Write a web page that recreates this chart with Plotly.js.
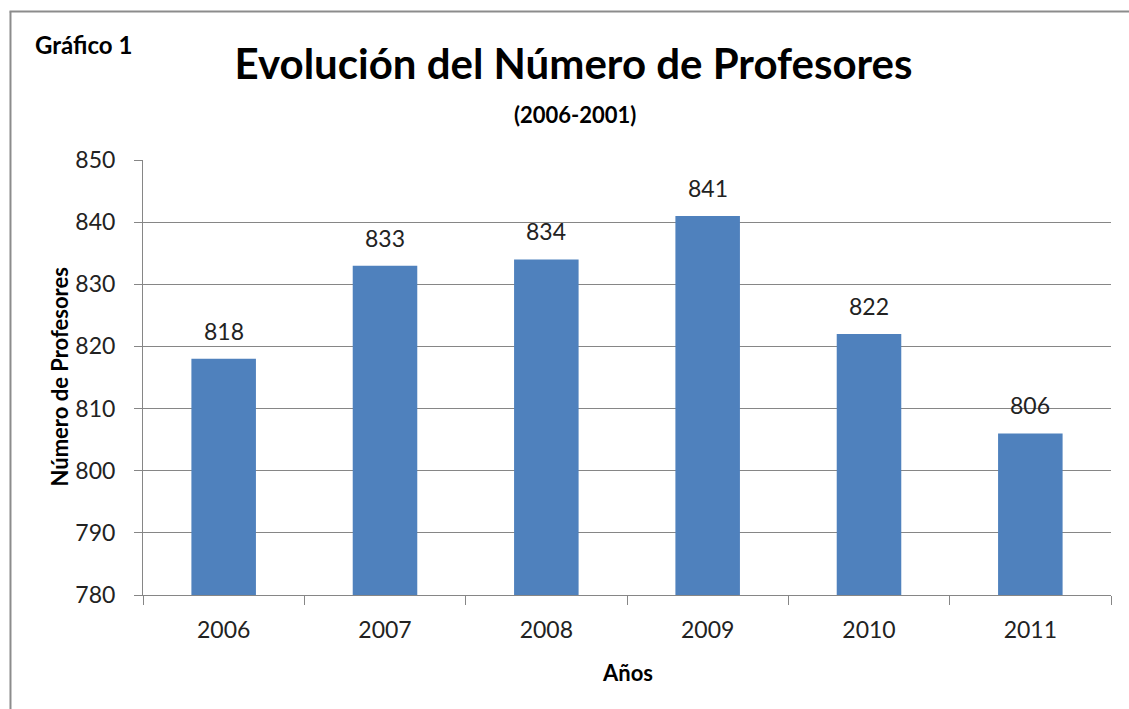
<!DOCTYPE html>
<html>
<head>
<meta charset="utf-8">
<script src="https://cdn.plot.ly/plotly-3.0.1.min.js"></script>
<style>
  body { margin: 0; background: #fff; overflow: hidden; }
</style>
</head>
<body>
<div id="plot" style="width:1129px;height:709px;"></div>
<script>
// años y número de profesores
let years = ["2006", "2007", "2008", "2009", "2010", "2011"];
let profesores = [818, 833, 834, 841, 822, 806];
let yTicks = [780, 790, 800, 810, 820, 830, 840, 850];

let fontName = "Lato, 'Open Sans', sans-serif";
let grey = "#868686";

let trace1 = {
    x: years,
    y: profesores,
    type: "bar",
    marker: { color: "#4f81bd" },
    hoverinfo: "x+y"
};

// etiquetas encima de cada barra (x = indice de la categoria)
let labels = years.map(function (yr, i) {
    return {
        x: i, y: profesores[i], text: String(profesores[i]),
        xref: "x", yref: "y", yanchor: "bottom", yshift: 12,
        showarrow: false, font: { family: fontName, size: 23, color: "#222" }
    };
});

labels.push({
    text: "<b>Gráfico 1</b>", xref: "paper", yref: "paper",
    x: -0.114, y: 1.265, xanchor: "left", yanchor: "middle",
    showarrow: false, font: { family: fontName, size: 24, color: "#000" }
});
labels.push({
    text: "<b>(2006-2001)</b>", xref: "paper", yref: "paper",
    x: 0.446, y: 1.105, xanchor: "center", yanchor: "middle",
    showarrow: false, font: { family: fontName, size: 22, color: "#000" }
});
// titulos de los ejes
labels.push({
    text: "<b>Número de Profesores</b>", xref: "paper", yref: "paper",
    x: 0, y: 0.5, xshift: -84, textangle: -90,
    xanchor: "center", yanchor: "middle",
    showarrow: false, font: { family: fontName, size: 22, color: "#000" }
});
labels.push({
    text: "<b>Años</b>", xref: "paper", yref: "paper",
    x: 0.5, y: 0, yshift: -77,
    xanchor: "center", yanchor: "middle",
    showarrow: false, font: { family: fontName, size: 22, color: "#000" }
});

// marco gris: solo borde izquierdo y superior
let frame = [
    { type: "line", xref: "paper", yref: "paper", x0: -0.1369, x1: -0.1369, y0: 1.3414, y1: -0.27,
      line: { color: "#8c8c8c", width: 2 } },
    { type: "line", xref: "paper", yref: "paper", x0: -0.1379, x1: 1.03, y0: 1.3414, y1: 1.3414,
      line: { color: "#8c8c8c", width: 2 } }
];

let layout = {
    width: 1129,
    height: 709,
    margin: { l: 143, r: 18, t: 160, b: 114 },
    paper_bgcolor: "#fff",
    plot_bgcolor: "#fff",
    showlegend: false,
    bargap: 0.6,
    title: {
        text: "<b>Evolución del Número de Profesores</b>",
        font: { family: fontName, size: 42, color: "#000" },
        x: 0.508, xanchor: "center",
        y: 0.91, yref: "container", yanchor: "middle"
    },
    xaxis: {
        type: "category",
        range: [-0.5, 5.5],
        tickson: "boundaries",
        ticks: "outside", ticklen: 9, tickcolor: grey,
        showline: true, linecolor: grey, linewidth: 1,
        showgrid: false,
        ticklabelstandoff: 14,
        tickfont: { family: fontName, size: 23, color: "#222" }
    },
    yaxis: {
        range: [780, 850],
        tickvals: yTicks,
        ticks: "outside", ticklen: 8, tickcolor: grey,
        showline: true, linecolor: grey, linewidth: 1,
        showgrid: true, gridcolor: grey, gridwidth: 1,
        zeroline: false,
        ticklabelstandoff: 14,
        tickfont: { family: fontName, size: 23, color: "#222" }
    },
    shapes: frame,
    annotations: labels
};

Plotly.newPlot("plot", [trace1], layout, { displayModeBar: false, staticPlot: true });
</script>
</body>
</html>
